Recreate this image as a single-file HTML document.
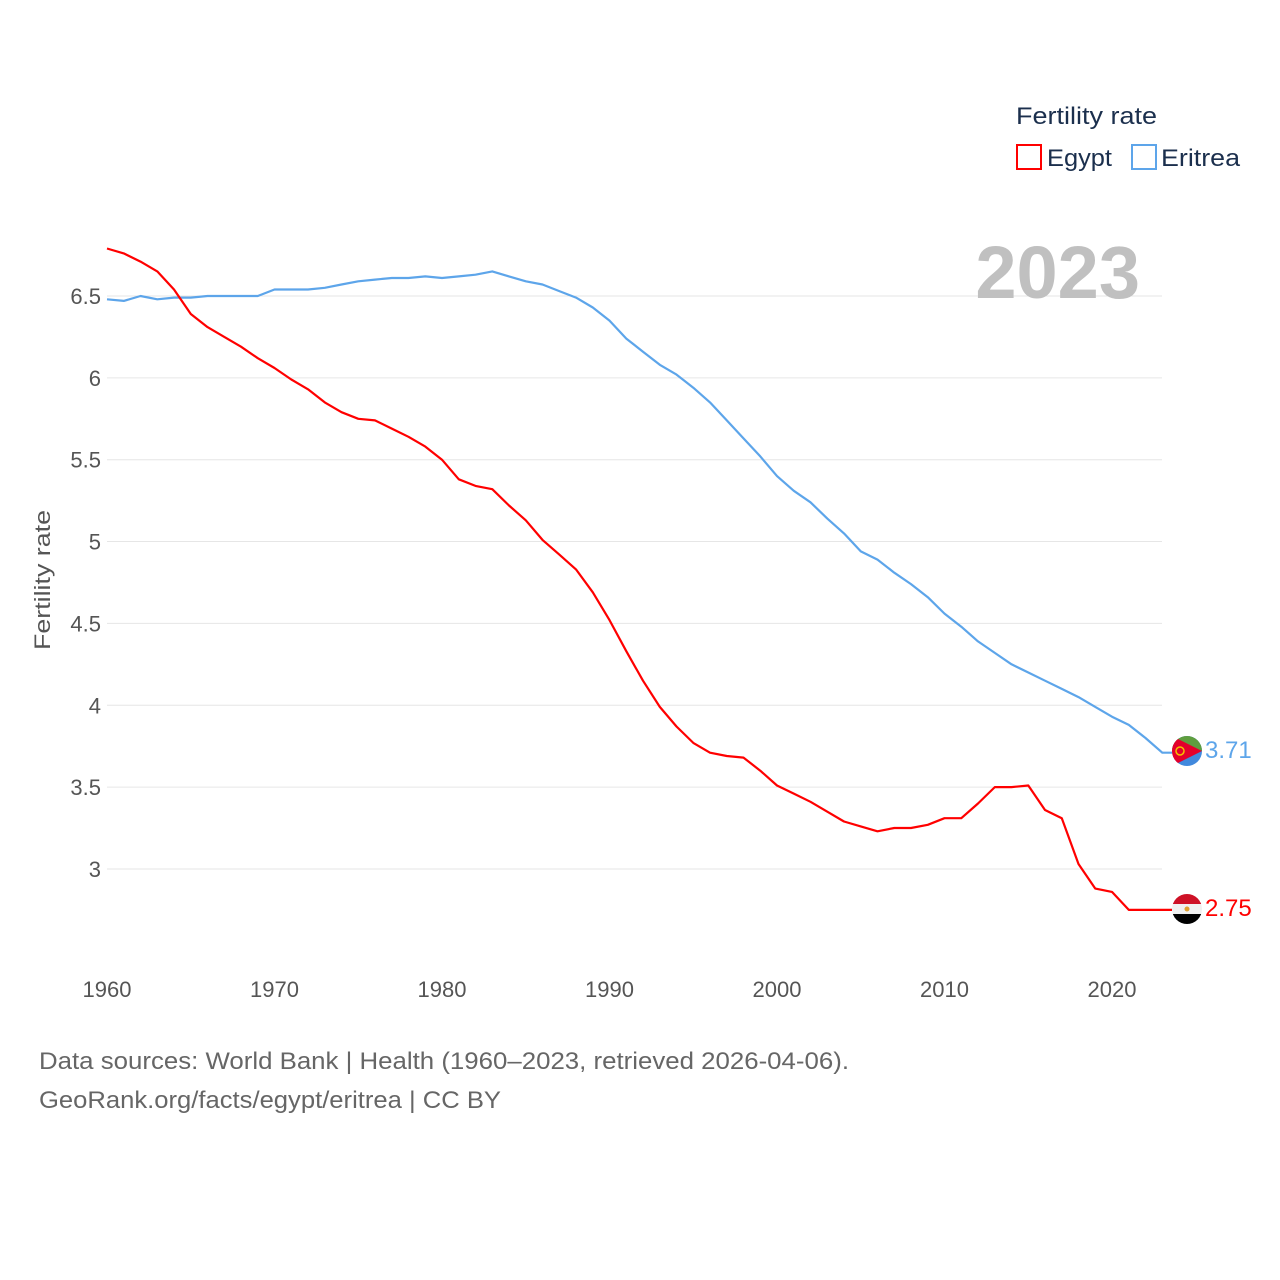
<!DOCTYPE html>
<html><head><meta charset="utf-8"><style>
body{margin:0;background:#fff;font-family:"Liberation Sans",sans-serif}
</style></head><body>
<svg id="chart" width="1280" height="1280" xmlns="http://www.w3.org/2000/svg" style="display:block">
<defs>
<clipPath id="c1"><circle cx="1187" cy="751" r="15"/></clipPath>
<clipPath id="c2"><circle cx="1187" cy="909" r="15"/></clipPath>
</defs>
<g id="grid"></g>
<g id="yt" font-size="22" fill="#555" text-anchor="end"></g>
<g id="xt" font-size="22" fill="#555" text-anchor="middle"></g>
<text transform="translate(50,580) rotate(-90)" font-size="22" fill="#555" text-anchor="middle" textLength="140" lengthAdjust="spacingAndGlyphs">Fertility rate</text>
<text x="1140" y="298" font-size="74" font-weight="bold" fill="#c0c0c0" text-anchor="end">2023</text>
<g id="lines"></g>
<g clip-path="url(#c1)">
<rect x="1172" y="736" width="30" height="30" fill="#4189dd"/>
<polygon points="1172,736 1202,736 1202,751 1172,751" fill="#5f9e3f"/>
<polygon points="1172,736 1202,751 1172,766" fill="#e4002b"/>
<circle cx="1180" cy="751" r="4" fill="none" stroke="#f3c200" stroke-width="1.5"/>
</g>
<g clip-path="url(#c2)">
<rect x="1172" y="894" width="30" height="10" fill="#ce1126"/>
<rect x="1172" y="904" width="30" height="10" fill="#f0f0f0"/>
<rect x="1172" y="914" width="30" height="10" fill="#000"/>
<circle cx="1187" cy="909" r="2.5" fill="#e0a030"/>
</g>
<text x="1205" y="758" font-size="24" fill="#5da5ea">3.71</text>
<text x="1205" y="916" font-size="24" fill="#f00">2.75</text>
<g font-size="24" fill="#1b2f4d">
<text x="1016" y="124" textLength="141" lengthAdjust="spacingAndGlyphs">Fertility rate</text>
<rect x="1017" y="145" width="24" height="24" fill="none" stroke="#f00" stroke-width="2"/>
<text x="1047" y="166" textLength="65" lengthAdjust="spacingAndGlyphs">Egypt</text>
<rect x="1132" y="145" width="24" height="24" fill="none" stroke="#5da5ea" stroke-width="2"/>
<text x="1161" y="166" textLength="79" lengthAdjust="spacingAndGlyphs">Eritrea</text>
</g>
<text x="39" y="1069" font-size="24" fill="#666" textLength="810" lengthAdjust="spacingAndGlyphs">Data sources: World Bank | Health (1960–2023, retrieved 2026-04-06).</text>
<text x="39" y="1108" font-size="24" fill="#666" textLength="462" lengthAdjust="spacingAndGlyphs">GeoRank.org/facts/egypt/eritrea | CC BY</text>
</svg>
<script>
const years=[];for(let y=1960;y<=2023;y++)years.push(y);
const egypt=[6.79,6.76,6.71,6.65,6.54,6.39,6.31,6.25,6.19,6.12,6.06,5.99,5.93,5.85,5.79,5.75,5.74,5.69,5.64,5.58,5.50,5.38,5.34,5.32,5.22,5.13,5.01,4.92,4.83,4.69,4.52,4.33,4.15,3.99,3.87,3.77,3.71,3.69,3.68,3.60,3.51,3.46,3.41,3.35,3.29,3.26,3.23,3.25,3.25,3.27,3.31,3.31,3.40,3.50,3.50,3.51,3.36,3.31,3.03,2.88,2.86,2.75,2.75,2.75];
const eritrea=[6.48,6.47,6.50,6.48,6.49,6.49,6.50,6.50,6.50,6.50,6.54,6.54,6.54,6.55,6.57,6.59,6.60,6.61,6.61,6.62,6.61,6.62,6.63,6.65,6.62,6.59,6.57,6.53,6.49,6.43,6.35,6.24,6.16,6.08,6.02,5.94,5.85,5.74,5.63,5.52,5.40,5.31,5.24,5.14,5.05,4.94,4.89,4.81,4.74,4.66,4.56,4.48,4.39,4.32,4.25,4.20,4.15,4.10,4.05,3.99,3.93,3.88,3.80,3.71];
const yTicks=[3,3.5,4,4.5,5,5.5,6,6.5];
const yTickLabels=["3","3.5","4","4.5","5","5.5","6","6.5"];
const xTicks=[1960,1970,1980,1990,2000,2010,2020];
const X=y=>107+(y-1960)*16.75;
const Y=v=>296+(6.5-v)*163.7;
const NS="http://www.w3.org/2000/svg";
function mk(t,p,a){const e=document.createElementNS(NS,t);for(const k in a)e.setAttribute(k,a[k]);p.appendChild(e);return e;}
const grid=document.getElementById('grid'),yt=document.getElementById('yt'),xt=document.getElementById('xt'),lines=document.getElementById('lines');
yTicks.forEach((v,i)=>{
const l=mk('line',grid,{x1:107,x2:1162,y1:Y(v),y2:Y(v),stroke:'#e6e6e6','stroke-width':1});


const t=mk('text',yt,{x:101,y:Y(v)+8});t.textContent=yTickLabels[i];


});
xTicks.forEach(y=>{const t=mk('text',xt,{x:X(y),y:997});t.textContent=String(y);

});
function draw(vals,color,name){
let d=vals.map((v,i)=>(i?'L':'M')+X(years[i]).toFixed(1)+','+Y(v).toFixed(1)).join(' ');
d+=' L1172,'+Y(vals[vals.length-1]).toFixed(1);
const p=mk('path',lines,{d:d,fill:'none',stroke:color,'stroke-width':2.2,'stroke-linejoin':'round'});


}
draw(eritrea,'#5da5ea','eritrea-line');
draw(egypt,'#f00','egypt-line');
</script>
</body></html>
